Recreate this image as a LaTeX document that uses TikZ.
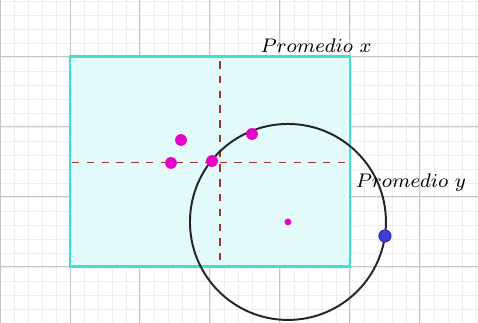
\documentclass[tikz,border=0pt]{standalone}
\usepackage{amsmath,amssymb}
\usepackage{xcolor}
\usepackage{tikz}
\usetikzlibrary{positioning, calc}

\definecolor{turq}{RGB}{64,224,208}
\definecolor{relleno}{RGB}{226,250,250}
\definecolor{punto}{RGB}{230,0,200}
\definecolor{azul}{RGB}{60,60,220}
\definecolor{media}{RGB}{160,50,50}

\begin{document}
\begin{tikzpicture}[
    menor/.style={gray!14, line width=0.3pt},
    mayor/.style={gray!45, line width=0.4pt},
    caja/.style={draw=turq, line width=1.2pt, fill=relleno},
    dato/.style={circle, fill=punto, inner sep=0pt, minimum size=4.8pt},
    libre/.style={circle, fill=azul, draw=azul!60!black, line width=0.3pt, inner sep=0pt, minimum size=5pt},
    guia/.style={dashed, media, line width=0.6pt},
    rotulo/.style={font=\fontsize{7.6}{9}\selectfont}
]
\useasboundingbox (0,-0.8) rectangle (6.829,3.814);
% cuadricula
\draw[menor] (0,-0.8) grid[step=0.2] (6.829,3.814);
\draw[mayor] (0,-0.8) grid[step=1] (6.829,3.814);

% rectangulo de los promedios
\draw[caja] (1,0) rectangle (5,3);
\coordinate (vx1) at (3.14,2.94);
\coordinate (vx2) at (3.14,0);
\coordinate (hy1) at (1.03,1.49);
\coordinate (hy2) at (5,1.49);
\draw[guia] (vx1) -- (vx2);
\draw[guia] (hy1) -- (hy2);

% circunferencia
\node[dato, minimum size=2.8pt] (c) at (4.114,0.643) {};
\draw[black!85, line width=0.8pt] (c) circle (1.4);

% puntos
\node[dato] (p1) at (2.586,1.814) {};
\node[dato] (p2) at (2.443,1.486) {};
\node[dato] (p3) at (3.029,1.514) {};
\node[dato] (p4) at (3.6,1.9) {};
\node[libre] (q) at (5.5,0.443) {};

\node[rotulo] (px) at (4.514,3.157) {$Promedio\ x$};
\node[rotulo] (py) at (5.87,1.2) {$Promedio\ y$};
\end{tikzpicture}
\end{document}
